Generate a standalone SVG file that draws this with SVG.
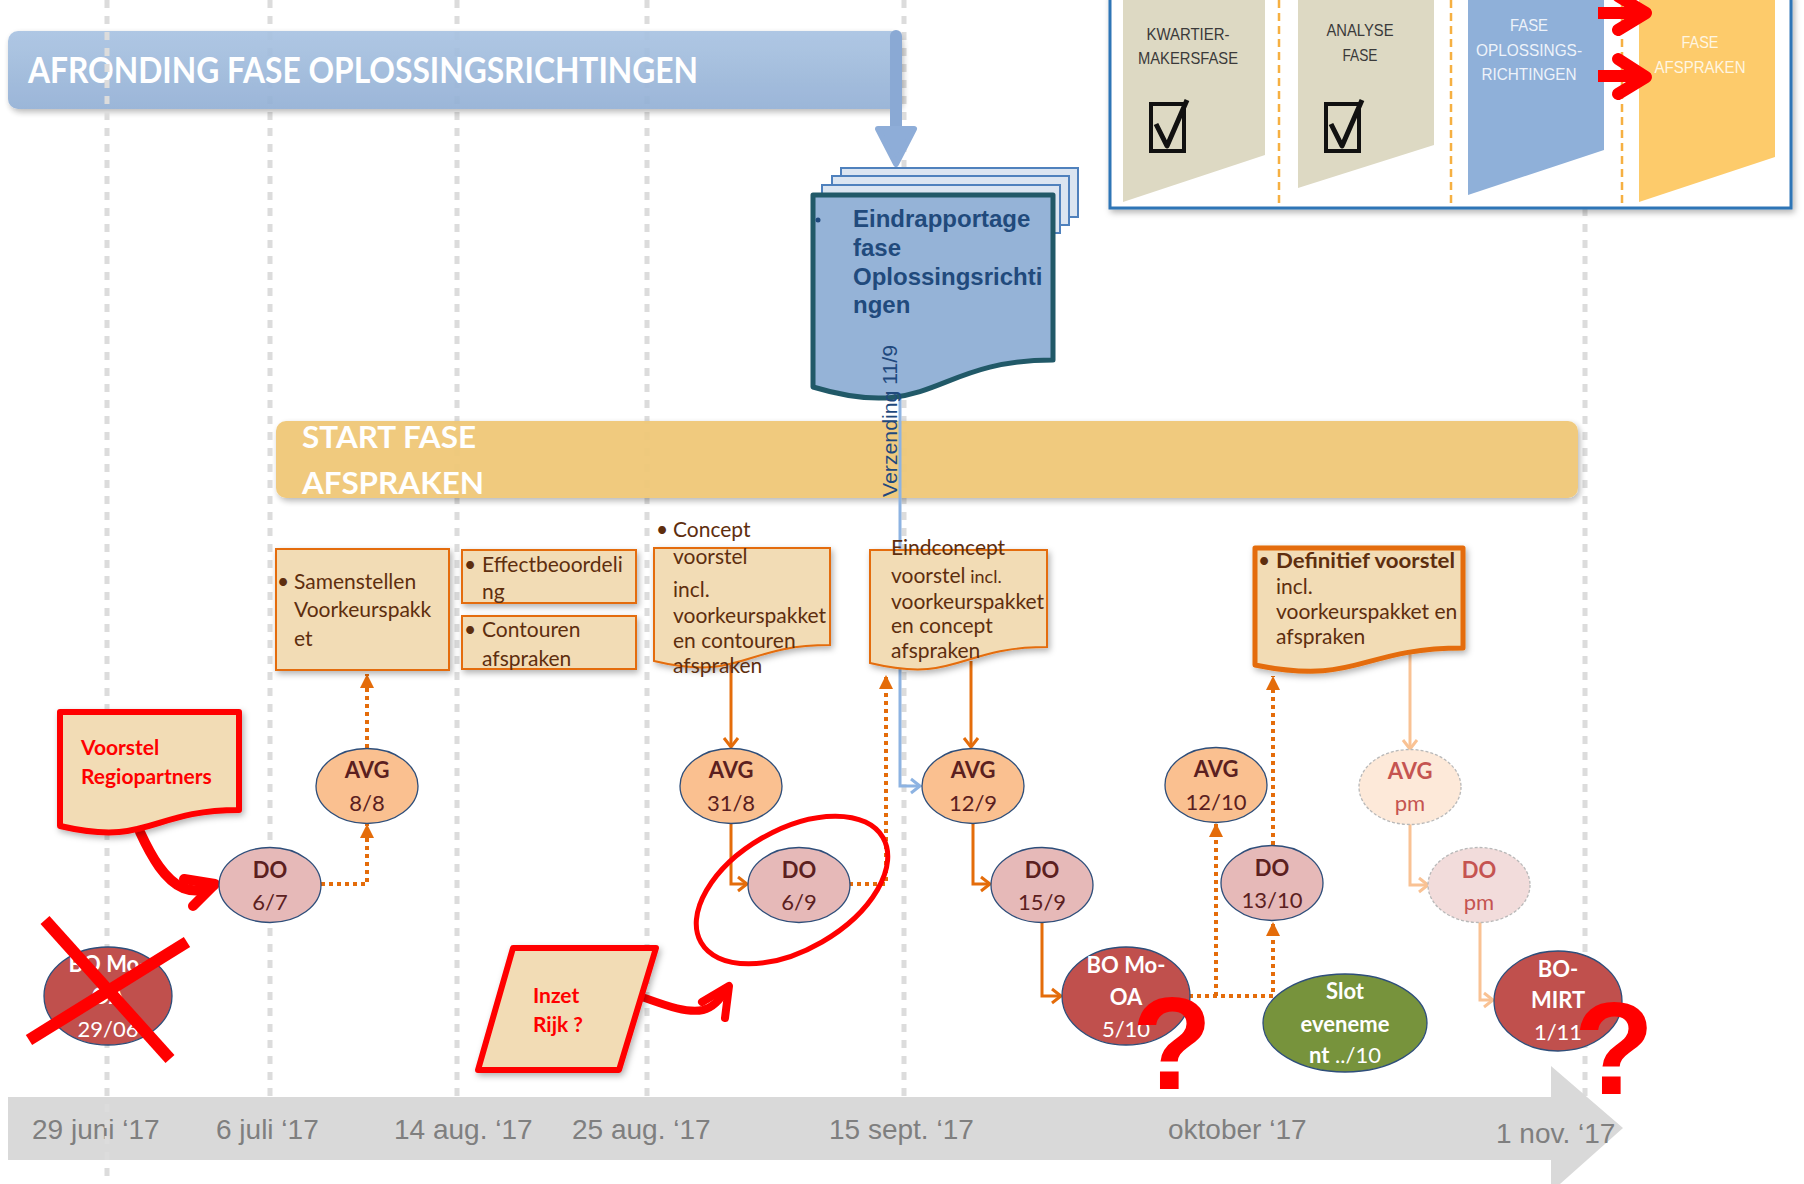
<svg xmlns="http://www.w3.org/2000/svg" width="1804" height="1184" viewBox="0 0 1804 1184">
<defs>
<style>
.grid{stroke:#dcdcdc;stroke-width:5;stroke-dasharray:8 8;fill:none}
.box{fill:#f2dcb5;stroke:#e46c0a;stroke-width:2}
.btxt{font-family:Lato,'Open Sans',sans-serif;font-size:21px;fill:#5e2e0e}
.sm{font-size:18px}
.avg{fill:#fac090;stroke:#2e4e7a;stroke-width:1.3}
.do{fill:#e6b9b8;stroke:#2e4e7a;stroke-width:1.3}
.bo{fill:#c0504d;stroke:#2e4e7a;stroke-width:1.3}
.pmavg{fill:#fde9d9;stroke:#b8b8b8;stroke-width:1.3;stroke-dasharray:3 2}
.pmdo{fill:#f2dcdb;stroke:#b8b8b8;stroke-width:1.3;stroke-dasharray:3 2}
.nt{font-family:Lato,'Open Sans',sans-serif;font-size:22px;fill:#5b2020;text-anchor:middle}
.pt{font-family:Lato,'Open Sans',sans-serif;font-size:22px;fill:#c55451;text-anchor:middle}
.wt{font-family:Lato,'Open Sans',sans-serif;font-size:22px;fill:#ffffff;text-anchor:middle}
.b{font-weight:bold}
.sol{fill:none;stroke:#e46c0a;stroke-width:3}
.dot{fill:none;stroke:#e46c0a;stroke-width:4;stroke-dasharray:4 4}
.lo{fill:none;stroke:#f9c294;stroke-width:3}
.blu{fill:none;stroke:#8db3e2;stroke-width:3}
.red{fill:none;stroke:#ff0000;stroke-linecap:round;stroke-linejoin:round}
.rtxt{font-family:Lato,'Open Sans',sans-serif;font-size:21px;font-weight:bold;fill:#ff0000}
.date{font-family:'Liberation Sans',Arial,sans-serif;font-size:28px;fill:#7f7f7f}
.ins{font-family:'Liberation Sans',Arial,sans-serif;font-size:17px;text-anchor:middle}
.q{font-family:'Liberation Sans',Arial,sans-serif;font-size:132px;font-weight:bold;fill:#ff0000;text-anchor:middle}
</style>
<filter id="sh" x="-10%" y="-10%" width="130%" height="140%">
<feDropShadow dx="2" dy="3" stdDeviation="3" flood-color="#000" flood-opacity="0.3"/>
</filter>
<linearGradient id="gBlue" x1="0" y1="0" x2="0" y2="1">
<stop offset="0" stop-color="#a9c3e2"/>
<stop offset="1" stop-color="#93b0d5"/>
</linearGradient>
<marker id="mO" markerUnits="userSpaceOnUse" markerWidth="16" markerHeight="16" refX="12" refY="8" orient="auto" overflow="visible">
<path d="M3,1 L12,8 L3,15" fill="none" stroke="#e46c0a" stroke-width="3"/>
</marker>
<marker id="mL" markerUnits="userSpaceOnUse" markerWidth="16" markerHeight="16" refX="12" refY="8" orient="auto" overflow="visible">
<path d="M3,1 L12,8 L3,15" fill="none" stroke="#f9c294" stroke-width="3"/>
</marker>
<marker id="mB" markerUnits="userSpaceOnUse" markerWidth="16" markerHeight="16" refX="12" refY="8" orient="auto" overflow="visible">
<path d="M3,1 L12,8 L3,15" fill="none" stroke="#8db3e2" stroke-width="3"/>
</marker>
<marker id="mT" markerUnits="userSpaceOnUse" markerWidth="16" markerHeight="16" refX="14" refY="7" orient="auto" overflow="visible">
<path d="M0,0 L14,7 L0,14 Z" fill="#e46c0a"/>
</marker>
</defs>

<rect x="0" y="0" width="1804" height="1184" fill="#ffffff"/>

<!-- grid lines -->
<g id="gridlines">
<line class="grid" x1="270" y1="0" x2="270" y2="1096"/>
<line class="grid" x1="457" y1="0" x2="457" y2="1096"/>
<line class="grid" x1="647" y1="0" x2="647" y2="1096"/>
<line class="grid" x1="904" y1="0" x2="904" y2="1096"/>
<line class="grid" x1="1585" y1="0" x2="1585" y2="1096"/>
</g>

<!-- top bar -->
<g id="bar-afronding">
<rect x="8" y="31" width="893" height="78" rx="10" fill="url(#gBlue)" opacity="0.92" filter="url(#sh)"/>
<text x="28" y="83" font-family="Lato,'Open Sans',sans-serif" font-size="36" font-weight="bold" fill="#ffffff" textLength="670" lengthAdjust="spacingAndGlyphs">AFRONDING FASE OPLOSSINGSRICHTINGEN</text>
</g>

<!-- timeline -->
<g id="timeline">
<path d="M8,1097 H1551 V1066 L1623,1128 L1551,1192 V1160 H8 Z" fill="#d9d9d9"/>
<text class="date" x="32" y="1139">29 juni ‘17</text>
<text class="date" x="216" y="1139">6 juli ‘17</text>
<text class="date" x="394" y="1139">14 aug. ‘17</text>
<text class="date" x="572" y="1139">25 aug. ‘17</text>
<text class="date" x="829" y="1139">15 sept. ‘17</text>
<text class="date" x="1168" y="1139">oktober ‘17</text>
<text class="date" x="1496" y="1143">1 nov. ‘17</text>
</g>

<line class="grid" x1="107" y1="0" x2="107" y2="1184"/>

<!-- start fase afspraken bar -->
<g id="bar-start">
<rect x="276" y="421" width="1302" height="77" rx="10" fill="#f0c878" opacity="0.95" filter="url(#sh)"/>
<text x="302" y="448" font-family="Lato,'Open Sans',sans-serif" font-size="31" font-weight="bold" fill="#ffffff" textLength="174" lengthAdjust="spacingAndGlyphs">START FASE</text>
<text x="302" y="494" font-family="Lato,'Open Sans',sans-serif" font-size="31" font-weight="bold" fill="#ffffff" textLength="182" lengthAdjust="spacingAndGlyphs">AFSPRAKEN</text>
</g>

<!-- connectors -->
<g id="connectors">
<line x1="896" y1="36" x2="896" y2="150" stroke="#8aa9d4" stroke-width="12" stroke-linecap="round"/>
<path d="M878,129 L896,164 L914,129 Z" fill="#8eadd8" stroke="#8eadd8" stroke-width="6" stroke-linejoin="round"/>
<path class="blu" d="M900,398 V786 H920" marker-end="url(#mB)"/>
<path class="dot" d="M321,884 H367 V824" marker-end="url(#mT)"/>
<path class="dot" d="M367,748 V674" marker-end="url(#mT)"/>
<path class="sol" d="M731,662 V747" marker-end="url(#mO)"/>
<path class="sol" d="M731,823 V884 H747" marker-end="url(#mO)"/>
<path class="dot" d="M849,884 H886 V675" marker-end="url(#mT)"/>
<path class="sol" d="M971,661 V747" marker-end="url(#mO)"/>
<path class="sol" d="M973,823 V884 H990" marker-end="url(#mO)"/>
<path class="sol" d="M1042,922 V996 H1061" marker-end="url(#mO)"/>
<path class="dot" d="M1189,996 H1273 V922" marker-end="url(#mT)"/>
<path class="dot" d="M1216,996 V823" marker-end="url(#mT)"/>
<path class="dot" d="M1273,845 V676" marker-end="url(#mT)"/>
<path class="lo" d="M1410,650 V749" marker-end="url(#mL)"/>
<path class="lo" d="M1410,824 V885 H1428" marker-end="url(#mL)"/>
<path class="lo" d="M1480,922 V1000 H1493" marker-end="url(#mL)"/>
<path class="red" stroke-width="10" d="M140,832 C152,858 165,880 183,888 C196,893 206,890 214,885"/>
<path class="red" stroke-width="10" d="M184,879 L215,884 L193,906"/>
<path class="red" stroke-width="8" d="M631,993 C660,1003 685,1014 703,1010 C715,1007 722,997 727,988"/>
<path class="red" stroke-width="8" d="M702,1002 L729,986 L725,1018"/>
</g>

<!-- document stack -->
<g id="eindrapportage">
<rect x="841" y="168" width="237" height="49" fill="#dbe5f1" stroke="#4f81bd" stroke-width="2"/>
<rect x="832" y="176" width="237" height="49" fill="#dbe5f1" stroke="#4f81bd" stroke-width="2"/>
<rect x="822" y="185" width="238" height="48" fill="#dbe5f1" stroke="#4f81bd" stroke-width="2"/>
<path d="M813,195 H1053 V360 C933,360 933,423 813,387 Z" fill="#95b3d7" stroke="#215968" stroke-width="5" stroke-linejoin="round"/>
<circle cx="818" cy="220" r="2.5" fill="#1f497d"/>
<g font-family="'Liberation Sans',Arial,sans-serif" font-size="24" font-weight="bold" fill="#214a7c">
<text x="853" y="227">Eindrapportage</text>
<text x="853" y="256">fase</text>
<text x="853" y="285">Oplossingsrichti</text>
<text x="853" y="313">ngen</text>
</g>
<text transform="translate(897,497) rotate(-90)" font-family="'Liberation Sans',Arial,sans-serif" font-size="21" fill="#1f497d" textLength="152" lengthAdjust="spacingAndGlyphs">Verzending 11/9</text>
</g>

<!-- orange boxes -->
<g id="box-samenstellen">
<rect class="box" x="276" y="549" width="173" height="121" filter="url(#sh)"/>
<text class="btxt" x="277" y="589">•</text>
<text class="btxt" x="294" y="589">Samenstellen</text>
<text class="btxt" x="294" y="617">Voorkeurspakk</text>
<text class="btxt" x="294" y="646">et</text>
</g>
<g id="box-effect">
<rect class="box" x="462" y="550" width="174" height="53" filter="url(#sh)"/>
<text class="btxt" x="464" y="572">•</text>
<text class="btxt" x="482" y="572">Effectbeoordeli</text>
<text class="btxt" x="482" y="599">ng</text>
</g>
<g id="box-contouren">
<rect class="box" x="462" y="616" width="174" height="53" filter="url(#sh)"/>
<text class="btxt" x="464" y="637">•</text>
<text class="btxt" x="482" y="637">Contouren</text>
<text class="btxt" x="482" y="666">afspraken</text>
</g>
<g id="doc-concept">
<path class="box" d="M654,548 H830 V645 C742,645 742,682 654,661 Z" filter="url(#sh)"/>
<text class="btxt" x="656" y="537">•</text>
<text class="btxt" x="673" y="537">Concept</text>
<text class="btxt" x="673" y="564">voorstel</text>
<text class="btxt" x="673" y="597" font-size="19">incl.</text>
<text class="btxt" x="673" y="623" font-size="19">voorkeurspakket</text>
<text class="btxt" x="673" y="648" font-size="19">en contouren</text>
<text class="btxt" x="673" y="673" font-size="19">afspraken</text>
</g>
<g id="doc-eindconcept">
<path class="box" d="M870,550 H1047 V647 C958,647 958,684 870,663 Z" filter="url(#sh)"/>
<text class="btxt" x="891" y="555">Eindconcept</text>
<text class="btxt" x="891" y="583">voorstel<tspan font-size="18"> incl.</tspan></text>
<text class="btxt" x="891" y="609" font-size="19">voorkeurspakket</text>
<text class="btxt" x="891" y="633" font-size="19">en concept</text>
<text class="btxt" x="891" y="658" font-size="19">afspraken</text>
</g>
<g id="doc-definitief">
<path d="M1255,548 H1463 V648 C1359,648 1359,686 1255,665 Z" fill="#f2dcb5" stroke="#e46c0a" stroke-width="5" stroke-linejoin="round" filter="url(#sh)"/>
<text class="btxt" x="1258" y="568">•</text>
<text class="btxt b" x="1276" y="568" font-size="20" fill="#6e3410" textLength="179" lengthAdjust="spacingAndGlyphs">Definitief voorstel</text>
<text class="btxt" x="1276" y="594" font-size="18">incl.</text>
<text class="btxt" x="1276" y="619" font-size="19">voorkeurspakket en</text>
<text class="btxt" x="1276" y="644" font-size="19">afspraken</text>
</g>

<!-- red annotation shapes -->
<g id="voorstel-regiopartners">
<path d="M60,712 H239 V810 C150,810 150,847 60,826 Z" fill="#f2dcb5" stroke="#ff0000" stroke-width="6" stroke-linejoin="round" filter="url(#sh)"/>
<text class="rtxt" x="81" y="755">Voorstel</text>
<text class="rtxt" x="81" y="784">Regiopartners</text>
</g>
<g id="inzet-rijk">
<polygon points="513,948 656,948 619,1070 478,1070" fill="#f2dcb5" stroke="#ff0000" stroke-width="6" stroke-linejoin="round" filter="url(#sh)"/>
<text class="rtxt" x="533" y="1003">Inzet</text>
<text class="rtxt" x="533" y="1032">Rijk ?</text>
</g>

<!-- ellipse nodes -->
<g id="bo-2906">
<ellipse class="bo" cx="108" cy="996" rx="64" ry="49"/>
<text class="wt b" x="108" y="972">BO Mo-</text>
<text class="wt b" x="108" y="1004">OA</text>
<text class="wt" x="108" y="1037">29/06</text>
<line x1="45" y1="920" x2="170" y2="1059" stroke="#ff0000" stroke-width="12"/>
<line x1="29" y1="1040" x2="187" y2="942" stroke="#ff0000" stroke-width="12"/>
</g>
<g id="do-67">
<ellipse class="do" cx="270" cy="885" rx="51" ry="37.5"/>
<text class="nt b" x="270" y="878">DO</text>
<text class="nt" x="270" y="910">6/7</text>
</g>
<g id="avg-88">
<ellipse class="avg" cx="367" cy="786" rx="51" ry="37.5"/>
<text class="nt b" x="367" y="778">AVG</text>
<text class="nt" x="367" y="811">8/8</text>
</g>
<g id="avg-318">
<ellipse class="avg" cx="731" cy="786" rx="51" ry="37.5"/>
<text class="nt b" x="731" y="778">AVG</text>
<text class="nt" x="731" y="811">31/8</text>
</g>
<g id="do-69">
<ellipse class="do" cx="799" cy="885" rx="51" ry="37.5"/>
<text class="nt b" x="799" y="878">DO</text>
<text class="nt" x="799" y="910">6/9</text>
<ellipse cx="792" cy="890" rx="105" ry="60" transform="rotate(-30 792 890)" fill="none" stroke="#ff0000" stroke-width="5"/>
</g>
<g id="avg-129">
<ellipse class="avg" cx="973" cy="786" rx="51" ry="37.5"/>
<text class="nt b" x="973" y="778">AVG</text>
<text class="nt" x="973" y="811">12/9</text>
</g>
<g id="do-159">
<ellipse class="do" cx="1042" cy="885" rx="51" ry="37.5"/>
<text class="nt b" x="1042" y="878">DO</text>
<text class="nt" x="1042" y="910">15/9</text>
</g>
<g id="bo-510">
<ellipse class="bo" cx="1126" cy="996" rx="64" ry="49"/>
<text class="wt b" x="1126" y="973">BO Mo-</text>
<text class="wt b" x="1126" y="1005">OA</text>
<text class="wt" x="1126" y="1037">5/10</text>
</g>
<g id="avg-1210">
<ellipse class="avg" cx="1216" cy="785" rx="51" ry="37.5"/>
<text class="nt b" x="1216" y="777">AVG</text>
<text class="nt" x="1216" y="810">12/10</text>
</g>
<g id="do-1310">
<ellipse class="do" cx="1272" cy="883" rx="51" ry="37.5"/>
<text class="nt b" x="1272" y="876">DO</text>
<text class="nt" x="1272" y="908">13/10</text>
</g>
<g id="slot">
<ellipse cx="1345" cy="1023" rx="82" ry="49" fill="#77933c" stroke="#2e4e7a" stroke-width="1.3"/>
<text class="wt b" x="1345" y="999" font-size="23">Slot</text>
<text class="wt b" x="1345" y="1032" font-size="23">eveneme</text>
<text class="wt" x="1345" y="1063" font-size="23"><tspan font-weight="bold">nt</tspan> ../10</text>
</g>
<g id="avg-pm">
<ellipse class="pmavg" cx="1410" cy="787" rx="51" ry="37.5"/>
<text class="pt b" x="1410" y="779">AVG</text>
<text class="pt" x="1410" y="811">pm</text>
</g>
<g id="do-pm">
<ellipse class="pmdo" cx="1479" cy="885" rx="51" ry="37.5"/>
<text class="pt b" x="1479" y="878">DO</text>
<text class="pt" x="1479" y="910">pm</text>
</g>
<g id="bo-mirt">
<ellipse class="bo" cx="1558" cy="1001" rx="64" ry="50"/>
<text class="wt b" x="1558" y="977">BO-</text>
<text class="wt b" x="1558" y="1008">MIRT</text>
<text class="wt" x="1558" y="1040">1/11</text>
</g>

<text class="q" x="1172" y="1089">?</text>
<text class="q" x="1614" y="1094">?</text>

<!-- inset -->
<g id="inset">
<rect x="1110" y="-6" width="681" height="214" fill="#ffffff" stroke="#2e75b6" stroke-width="3" filter="url(#sh)"/>
<polygon points="1123,0 1265,0 1265,155 1123,202" fill="#ddd9c3"/>
<polygon points="1298,0 1434,0 1434,145 1298,188" fill="#ddd9c3"/>
<polygon points="1468,0 1604,0 1604,150 1468,195" fill="#8fb0d9"/>
<polygon points="1639,0 1775,0 1775,157 1639,202" fill="#fdcb6b"/>
<g stroke="#f6b042" stroke-width="2.5" stroke-dasharray="8 5">
<line x1="1279" y1="0" x2="1279" y2="206"/>
<line x1="1451" y1="0" x2="1451" y2="206"/>
<line x1="1622" y1="0" x2="1622" y2="206"/>
</g>
<text class="ins" x="1188" y="40" fill="#3a3a3a" textLength="83" lengthAdjust="spacingAndGlyphs">KWARTIER-</text>
<text class="ins" x="1188" y="64" fill="#3a3a3a" textLength="100" lengthAdjust="spacingAndGlyphs">MAKERSFASE</text>
<text class="ins" x="1360" y="36" fill="#3a3a3a" textLength="67" lengthAdjust="spacingAndGlyphs">ANALYSE</text>
<text class="ins" x="1360" y="61" fill="#3a3a3a" textLength="35" lengthAdjust="spacingAndGlyphs">FASE</text>
<text class="ins" x="1529" y="31" fill="#eef3fa" textLength="38" lengthAdjust="spacingAndGlyphs">FASE</text>
<text class="ins" x="1529" y="56" fill="#eef3fa" textLength="106" lengthAdjust="spacingAndGlyphs">OPLOSSINGS-</text>
<text class="ins" x="1529" y="80" fill="#eef3fa" textLength="95" lengthAdjust="spacingAndGlyphs">RICHTINGEN</text>
<text class="ins" x="1700" y="48" fill="#fff6e2" textLength="37" lengthAdjust="spacingAndGlyphs">FASE</text>
<text class="ins" x="1700" y="73" fill="#fff6e2" textLength="91" lengthAdjust="spacingAndGlyphs">AFSPRAKEN</text>
<rect x="1151" y="104" width="33" height="47" fill="none" stroke="#111111" stroke-width="4"/>
<path d="M1156,124 L1167,146 L1187,100" fill="none" stroke="#111111" stroke-width="5" stroke-linejoin="round"/>
<rect x="1326" y="104" width="33" height="47" fill="none" stroke="#111111" stroke-width="4"/>
<path d="M1331,124 L1342,146 L1362,100" fill="none" stroke="#111111" stroke-width="5" stroke-linejoin="round"/>
<g stroke="#ff0000" fill="none" stroke-width="12" stroke-linejoin="round">
<line x1="1598" y1="13" x2="1640" y2="13"/>
<polyline points="1618,-4 1646,13 1618,30" stroke-linecap="round"/>
<line x1="1598" y1="76" x2="1640" y2="76"/>
<polyline points="1618,59 1646,77 1618,94" stroke-linecap="round"/>
</g>
</g>
</svg>
